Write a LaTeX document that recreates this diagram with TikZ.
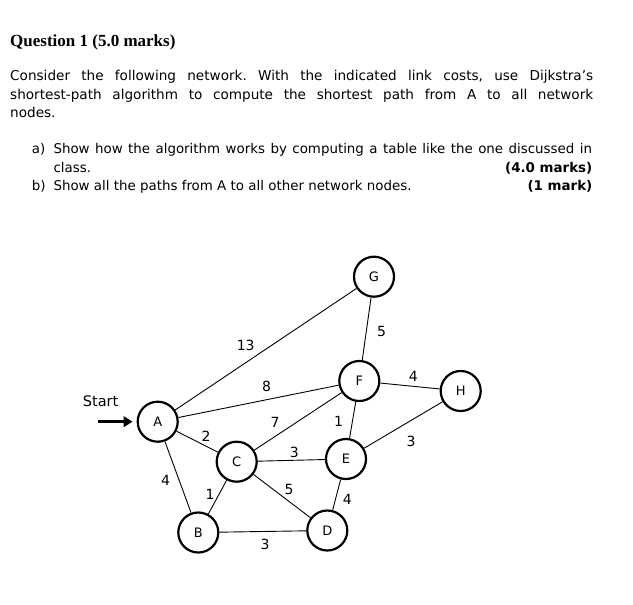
\documentclass[tikz,border=0pt]{standalone}
\usepackage{fontspec}
\setmainfont{DejaVu Sans}
\newfontfamily\headfont{Liberation Serif}
\usetikzlibrary{arrows.meta}
\frenchspacing
\begin{document}
\begin{tikzpicture}[x=1pt,y=-1pt,
  vertex/.style={circle,draw,line width=2.2pt,minimum size=40pt,inner sep=0pt,font=\fontsize{13}{15}\selectfont},
  link/.style={line width=0.9pt},
  cost/.style={font=\fontsize{14}{16}\selectfont,inner sep=0pt},
  txt/.style={anchor=base west,inner sep=0pt,font=\fontsize{13.6}{16}\selectfont},
  itm/.style={anchor=base west,inner sep=0pt,font=\fontsize{13.4}{15}\selectfont},
  mrk/.style={anchor=base east,inner sep=0pt,font=\fontsize{13.4}{15}\selectfont\bfseries},
  startarrow/.style={line width=3.2pt,-{Triangle[length=9pt,width=10.5pt]}}]
\fill[white] (0,0) rectangle (633,605);
\useasboundingbox (0,0) rectangle (633,605);

% text
\node[anchor=base west,inner sep=0pt,font=\headfont\bfseries\fontsize{17}{20}\selectfont] (title) at (10,46.7) {Question 1 (5.0 marks)};
\node[txt] (p1) at (10,80) {\makebox[583pt][s]{Consider the following network. With the indicated link costs, use Dijkstra’s}};
\node[txt] (p2) at (10,99) {\makebox[583pt][s]{shortest-path algorithm to compute the shortest path from A to all network}};
\node[txt] (p3) at (10,117.7) {nodes.};
\node[itm] (ia) at (31.7,153.3) {a)};
\node[itm] (ia1) at (53.3,153.3) {\makebox[538.5pt][s]{Show how the algorithm works by computing a table like the one discussed in}};
\node[itm] (ia2) at (53.3,172.3) {class.};
\node[mrk] (ma) at (592.5,172.3) {(4.0 marks)};
\node[itm] (ib) at (31.7,190) {b)};
\node[itm] (ib1) at (53.3,190) {Show all the paths from A to all other network nodes.};
\node[mrk] (mb) at (592.5,190) {(1 mark)};

% nodes
\node[vertex] (A) at (157.7,421.7) {A};
\node[vertex] (B) at (198.3,532.5) {B};
\node[vertex] (C) at (236.7,461.7) {C};
\node[vertex] (D) at (327.3,530.5) {D};
\node[vertex] (E) at (346,459) {E};
\node[vertex] (F) at (359.3,381) {F};
\node[vertex] (G) at (374,276.7) {G};
\node[vertex] (H) at (460.7,391) {H};

% links
\draw[link] (A) -- (G);
\draw[link] (A) -- (F);
\draw[link] (A) -- (C);
\draw[link] (A) -- (B);
\draw[link] (C) -- (F);
\draw[link] (C) -- (E);
\draw[link] (C) -- (D);
\draw[link] (C) -- (B);
\draw[link] (B) -- (D);
\draw[link] (E) -- (D);
\draw[link] (E) -- (F);
\draw[link] (E) -- (H);
\draw[link] (F) -- (H);
\draw[link] (F) -- (G);

% costs
\node[cost] (cAG) at (245.7,345) {13};
\node[cost] (cAF) at (266.7,386.7) {8};
\node[cost] (cCF) at (275,422.3) {7};
\node[cost] (cEF) at (338.5,421.7) {1};
\node[cost] (cAC) at (206,436.7) {2};
\node[cost] (cFG) at (381.7,331.7) {5};
\node[cost] (cFH) at (413.3,376.7) {4};
\node[cost] (cEH) at (411,441.7) {3};
\node[cost] (cCE) at (294.3,452.7) {3};
\node[cost] (cAB) at (165.7,480) {4};
\node[cost] (cBC) at (210,494.3) {1};
\node[cost] (cCD) at (289,489.3) {5};
\node[cost] (cED) at (347.3,499.3) {4};
\node[cost] (cBD) at (265,544.3) {3};

% start
\node[anchor=base west,inner sep=0pt,font=\fontsize{14.5}{17}\selectfont] (st) at (82.7,406.7) {Start};
\coordinate (s0) at (98.3,421.7);
\draw[startarrow,shorten >=4pt] (s0) -- (A);
\end{tikzpicture}
\end{document}
